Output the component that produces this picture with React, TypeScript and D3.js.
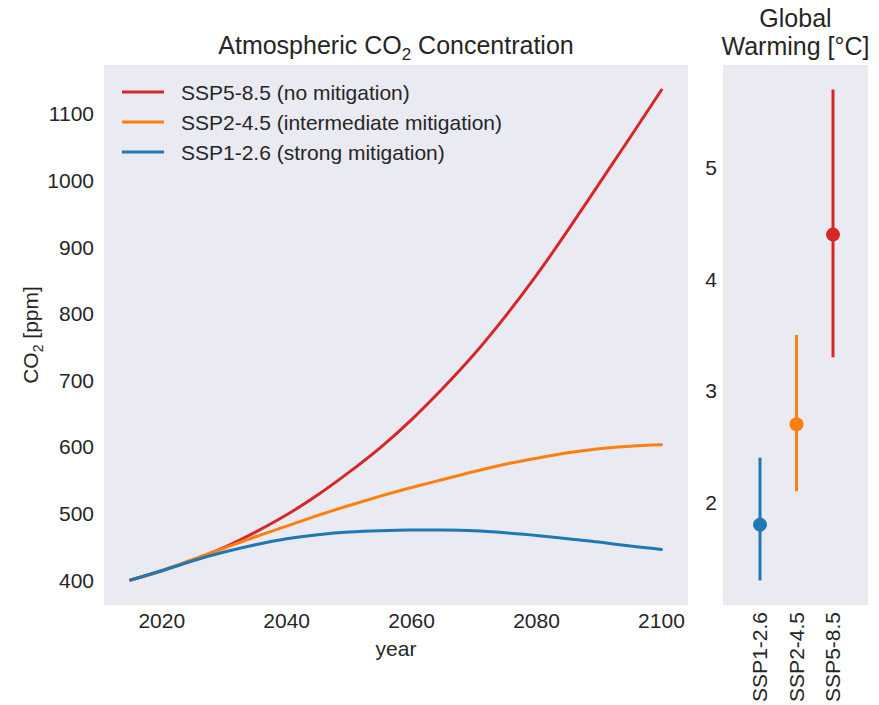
import React from "react";
import * as d3 from "d3";

// CO2 concentration pathways (ppm), every 5 years
const years = [2015, 2020, 2025, 2030, 2035, 2040, 2045, 2050, 2055, 2060, 2065, 2070, 2075, 2080, 2085, 2090, 2095, 2100];
const ssp585 = [400, 414, 430, 449, 472, 498, 528, 562, 599, 641, 688, 739, 796, 858, 925, 995, 1065, 1136];
const ssp245 = [400, 414, 431, 448, 465, 481, 497, 512, 526, 539, 551, 563, 574, 583, 591, 597, 601, 603];
const ssp126 = [400, 414, 429, 442, 453, 462, 468, 472, 474, 475, 475, 474, 471, 467, 462, 457, 451, 446];

const seriesNames = ["SSP5-8.5 (no mitigation)", "SSP2-4.5 (intermediate mitigation)", "SSP1-2.6 (strong mitigation)"];
const seriesColors = ["#d62728", "#ff7f0e", "#1f77b4"];

// warming by 2100 (°C): central estimate and likely range
const scenarios = ["SSP1-2.6", "SSP2-4.5", "SSP5-8.5"];
const warmMid = [1.8, 2.7, 4.4];
const warmLow = [1.3, 2.1, 3.3];
const warmHigh = [2.4, 3.5, 5.7];
const warmColors = ["#1f77b4", "#ff7f0e", "#d62728"];

const xTicks = [2020, 2040, 2060, 2080, 2100];
const yTicks = [400, 500, 600, 700, 800, 900, 1000, 1100];
const wTicks = [2, 3, 4, 5];

const font = "'Liberation Sans', Arial, sans-serif";
const txt = "#262626";
const bg = "#eaeaf2";

export default function App() {
  // left panel
  const L = { left: 104, right: 688, top: 65, bottom: 605 };
  const x = d3.scaleLinear().domain([2010.75, 2104.25]).range([L.left, L.right]);
  const y = d3.scaleLinear().domain([362.5, 1173.5]).range([L.bottom, L.top]);
  const line = d3
    .line<number>()
    .x((_, i) => x(years[i]))
    .y((d) => y(d))
    .curve(d3.curveNatural);
  const allSeries = [ssp585, ssp245, ssp126];

  // right panel
  const R = { left: 723, right: 868, top: 65, bottom: 605 };
  const xr = d3.scalePoint<string>().domain(scenarios).range([760, 833]);
  const yr = d3.scaleLinear().domain([1.08, 5.92]).range([R.bottom, R.top]);

  return (
    <svg
      width={879}
      height={705}
      style={{ position: "absolute", left: 0, top: 0, background: "#fff" }}
      fontFamily={font}
    >
      {/* left panel */}
      <rect x={L.left} y={L.top} width={L.right - L.left} height={L.bottom - L.top} fill={bg} />
      {allSeries.map((s, i) => (
        <path key={i} d={line(s) || ""} fill="none" stroke={seriesColors[i]} strokeWidth={3} strokeLinecap="round" />
      ))}
      {xTicks.map((t) => (
        <text key={t} x={x(t)} y={628} textAnchor="middle" fontSize={21} fill={txt}>
          {t}
        </text>
      ))}
      {yTicks.map((t) => (
        <text key={t} x={94} y={y(t) + 7.5} textAnchor="end" fontSize={21} fill={txt}>
          {t}
        </text>
      ))}
      <text x={(L.left + L.right) / 2} y={656} textAnchor="middle" fontSize={21} fill={txt}>
        year
      </text>
      <text transform={`translate(38,${(L.top + L.bottom) / 2}) rotate(-90)`} textAnchor="middle" fontSize={21} fill={txt}>
        CO<tspan fontSize={14} dy={5}>2</tspan>
        <tspan dy={-5}> [ppm]</tspan>
      </text>
      <text x={(L.left + L.right) / 2} y={54} textAnchor="middle" fontSize={25} fill={txt}>
        Atmospheric CO<tspan fontSize={17} dy={6}>2</tspan>
        <tspan dy={-6}> Concentration</tspan>
      </text>

      {/* legend */}
      {seriesNames.map((n, i) => (
        <g key={n} transform={`translate(0,${92 + i * 30})`}>
          <line x1={122} x2={164} y1={0} y2={0} stroke={seriesColors[i]} strokeWidth={3} />
          <text x={181} y={7.5} fontSize={21} fill={txt}>
            {n}
          </text>
        </g>
      ))}

      {/* right panel */}
      <rect x={R.left} y={R.top} width={R.right - R.left} height={R.bottom - R.top} fill={bg} />
      {scenarios.map((s, i) => (
        <g key={s}>
          <line x1={xr(s)} x2={xr(s)} y1={yr(warmLow[i])} y2={yr(warmHigh[i])} stroke={warmColors[i]} strokeWidth={3} />
          <circle cx={xr(s)} cy={yr(warmMid[i])} r={7} fill={warmColors[i]} />
          <text
            transform={`translate(${(xr(s) || 0) + 7},612) rotate(-90)`}
            textAnchor="end"
            fontSize={21}
            fill={txt}
          >
            {s}
          </text>
        </g>
      ))}
      {wTicks.map((t) => (
        <text key={t} x={717} y={yr(t) + 7.5} textAnchor="end" fontSize={21} fill={txt}>
          {t}
        </text>
      ))}
      <text x={(R.left + R.right) / 2} y={27} textAnchor="middle" fontSize={25} fill={txt}>
        Global
      </text>
      <text x={(R.left + R.right) / 2} y={55} textAnchor="middle" fontSize={25} fill={txt}>
        Warming [°C]
      </text>
    </svg>
  );
}
